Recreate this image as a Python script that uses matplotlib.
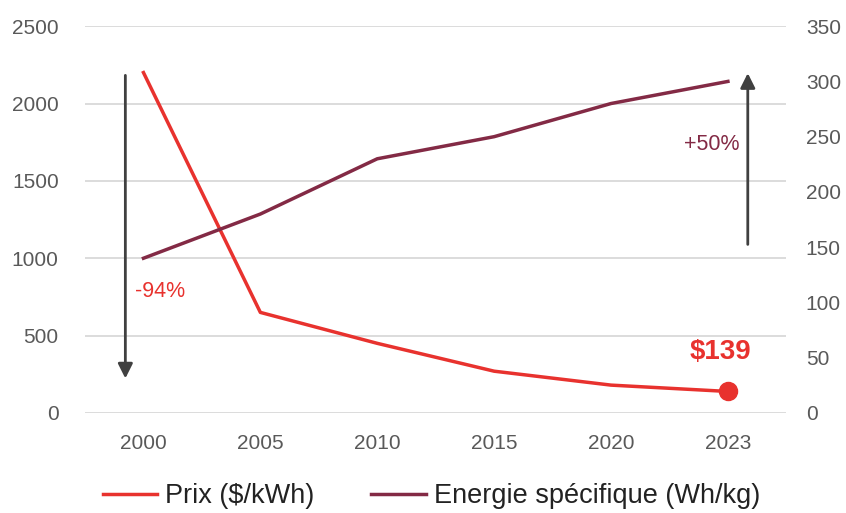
import matplotlib.pyplot as plt

annees = ["2000", "2005", "2010", "2015", "2020", "2023"]
prix = [2200, 650, 450, 270, 180, 139]
energie = [140, 180, 230, 250, 280, 300]

ROUGE = "#E8322E"
VIOLET = "#832A45"
GRIS = "#595959"

plt.rcParams['font.family'] = ['Liberation Sans', 'DejaVu Sans']

fig = plt.figure(figsize=(8.46, 5.13), dpi=100)
ax = fig.add_axes([0.1005, 0.195, 0.829, 0.754])
ax2 = ax.twinx()

x = list(range(len(annees)))

ax.set_ylim(0, 2500)
ax.set_yticks([0, 500, 1000, 1500, 2000, 2500])
ax2.set_ylim(0, 350)
ax2.set_yticks([0, 50, 100, 150, 200, 250, 300, 350])
ax.set_xlim(-0.5, len(annees) - 0.5)
ax.set_xticks(x)
ax.set_xticklabels(annees)

ax.grid(axis='y', color="#D9D9D9", linewidth=1.3)
ax.set_axisbelow(True)
for a in (ax, ax2):
    for s in a.spines.values():
        s.set_visible(False)
    a.tick_params(length=0, colors=GRIS, labelsize=15)
ax.tick_params(axis='x', pad=15)
ax.tick_params(axis='y', pad=19)
ax2.tick_params(axis='y', pad=14)

l1, = ax.plot(x, prix, color=ROUGE, linewidth=2.5, label="Prix ($/kWh)", zorder=3)
l2, = ax2.plot(x, energie, color=VIOLET, linewidth=2.5, label="Energie spécifique (Wh/kg)", zorder=3)
ax.plot(x[-1], prix[-1], 'o', color=ROUGE, markersize=13, zorder=4)
ax.text(x[-1] - 0.06, prix[-1] + 170, "$139", color=ROUGE, fontsize=20, fontweight='bold',
        ha='center', va='bottom')

# fleches
ax.annotate("", xy=(-0.155, 205), xytext=(-0.155, 2200),
            arrowprops=dict(arrowstyle="-|>", color="#404040", lw=2, mutation_scale=22))
ax.text(-0.075, 785, "-94%", color=ROUGE, fontsize=15.5, ha='left', va='center')
ax2.annotate("", xy=(5.17, 310), xytext=(5.17, 150),
             arrowprops=dict(arrowstyle="-|>", color="#404040", lw=2, mutation_scale=22))
ax2.text(5.1, 243, "+50%", color=VIOLET, fontsize=15.5, ha='right', va='center')

fig.legend(handles=[l1, l2], loc='lower center', bbox_to_anchor=(0.51, -0.04), ncol=2,
           frameon=False, fontsize=19.5, handlelength=2.0, columnspacing=2.1,
           handletextpad=0.3, labelcolor="#222222")

fig.savefig("out.png", dpi=100)
